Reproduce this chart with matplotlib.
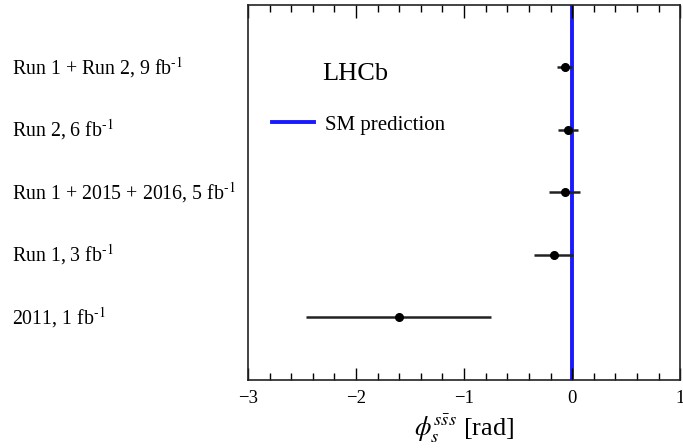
import matplotlib
matplotlib.use("Agg")
import matplotlib.pyplot as plt
from matplotlib.ticker import MultipleLocator, FuncFormatter

labels = [
    r"Run 1 + Run 2, 9 fb$^{\text{-1}}$",
    r"Run 2, 6 fb$^{\text{-1}}$",
    r"Run 1 + 2015 + 2016, 5 fb$^{\text{-1}}$",
    r"Run 1, 3 fb$^{\text{-1}}$",
    r"2011, 1 fb$^{\text{-1}}$",
]
values = [-0.07, -0.04, -0.07, -0.17, -1.60]
err_low = [0.07, 0.09, 0.145, 0.18, 0.86]
err_high = [0.07, 0.09, 0.145, 0.18, 0.85]
sm_prediction = 0.0

plt.rcParams['font.family'] = ['Liberation Serif', 'DejaVu Serif']
plt.rcParams['mathtext.fontset'] = 'stix'

fig = plt.figure(figsize=(6.83, 4.48), dpi=100)
ax = fig.add_axes([0.363, 0.152, 0.633, 0.837])

n = len(values)
ypos = [n - i for i in range(n)]

ax.axvline(sm_prediction, color='#1a1aff', lw=2.8, zorder=1, label='SM prediction')
ax.errorbar(values, ypos, xerr=[err_low, err_high], fmt='o', color='black',
            ms=5.5, elinewidth=1.8, capsize=0, ecolor='#222222', zorder=3)

ax.set_xlim(-3, 1)
ax.set_ylim(0, n + 1)
ax.set_yticks([])
ax.xaxis.set_major_locator(MultipleLocator(1))
ax.xaxis.set_minor_locator(MultipleLocator(0.2))
ax.tick_params(axis='x', which='major', direction='in', length=9, width=1, top=True,
               labelsize=13.5, pad=7)
ax.tick_params(axis='x', which='minor', direction='in', length=5, width=1, top=True)
ax.xaxis.set_major_formatter(FuncFormatter(
    lambda v, p: ('\u2212%d' % abs(round(v))) if v < 0 else '%d' % round(v)))
for s in ax.spines.values():
    s.set_linewidth(1.2)
    s.set_color('#222222')

ax.set_xlabel(r"$\phi_s^{s\bar{s}s}$ [rad]", fontsize=19, labelpad=4)

fig.canvas.draw()
for lab, y in zip(labels, ypos):
    ax.text(12 / 683, ax.transData.transform((0, y))[1] / 448, lab,
            transform=fig.transFigure, ha='left', va='center', fontsize=14.3)

ax.text(0.171, 0.815, "LHCb", transform=ax.transAxes, fontsize=19, ha='left', va='center')
ax.legend(loc='center left', bbox_to_anchor=(0.056, 0.68), frameon=False, fontsize=15,
          handlelength=2.0, handletextpad=0.55, borderpad=0, borderaxespad=0)

fig.savefig("out.png", dpi=100)
